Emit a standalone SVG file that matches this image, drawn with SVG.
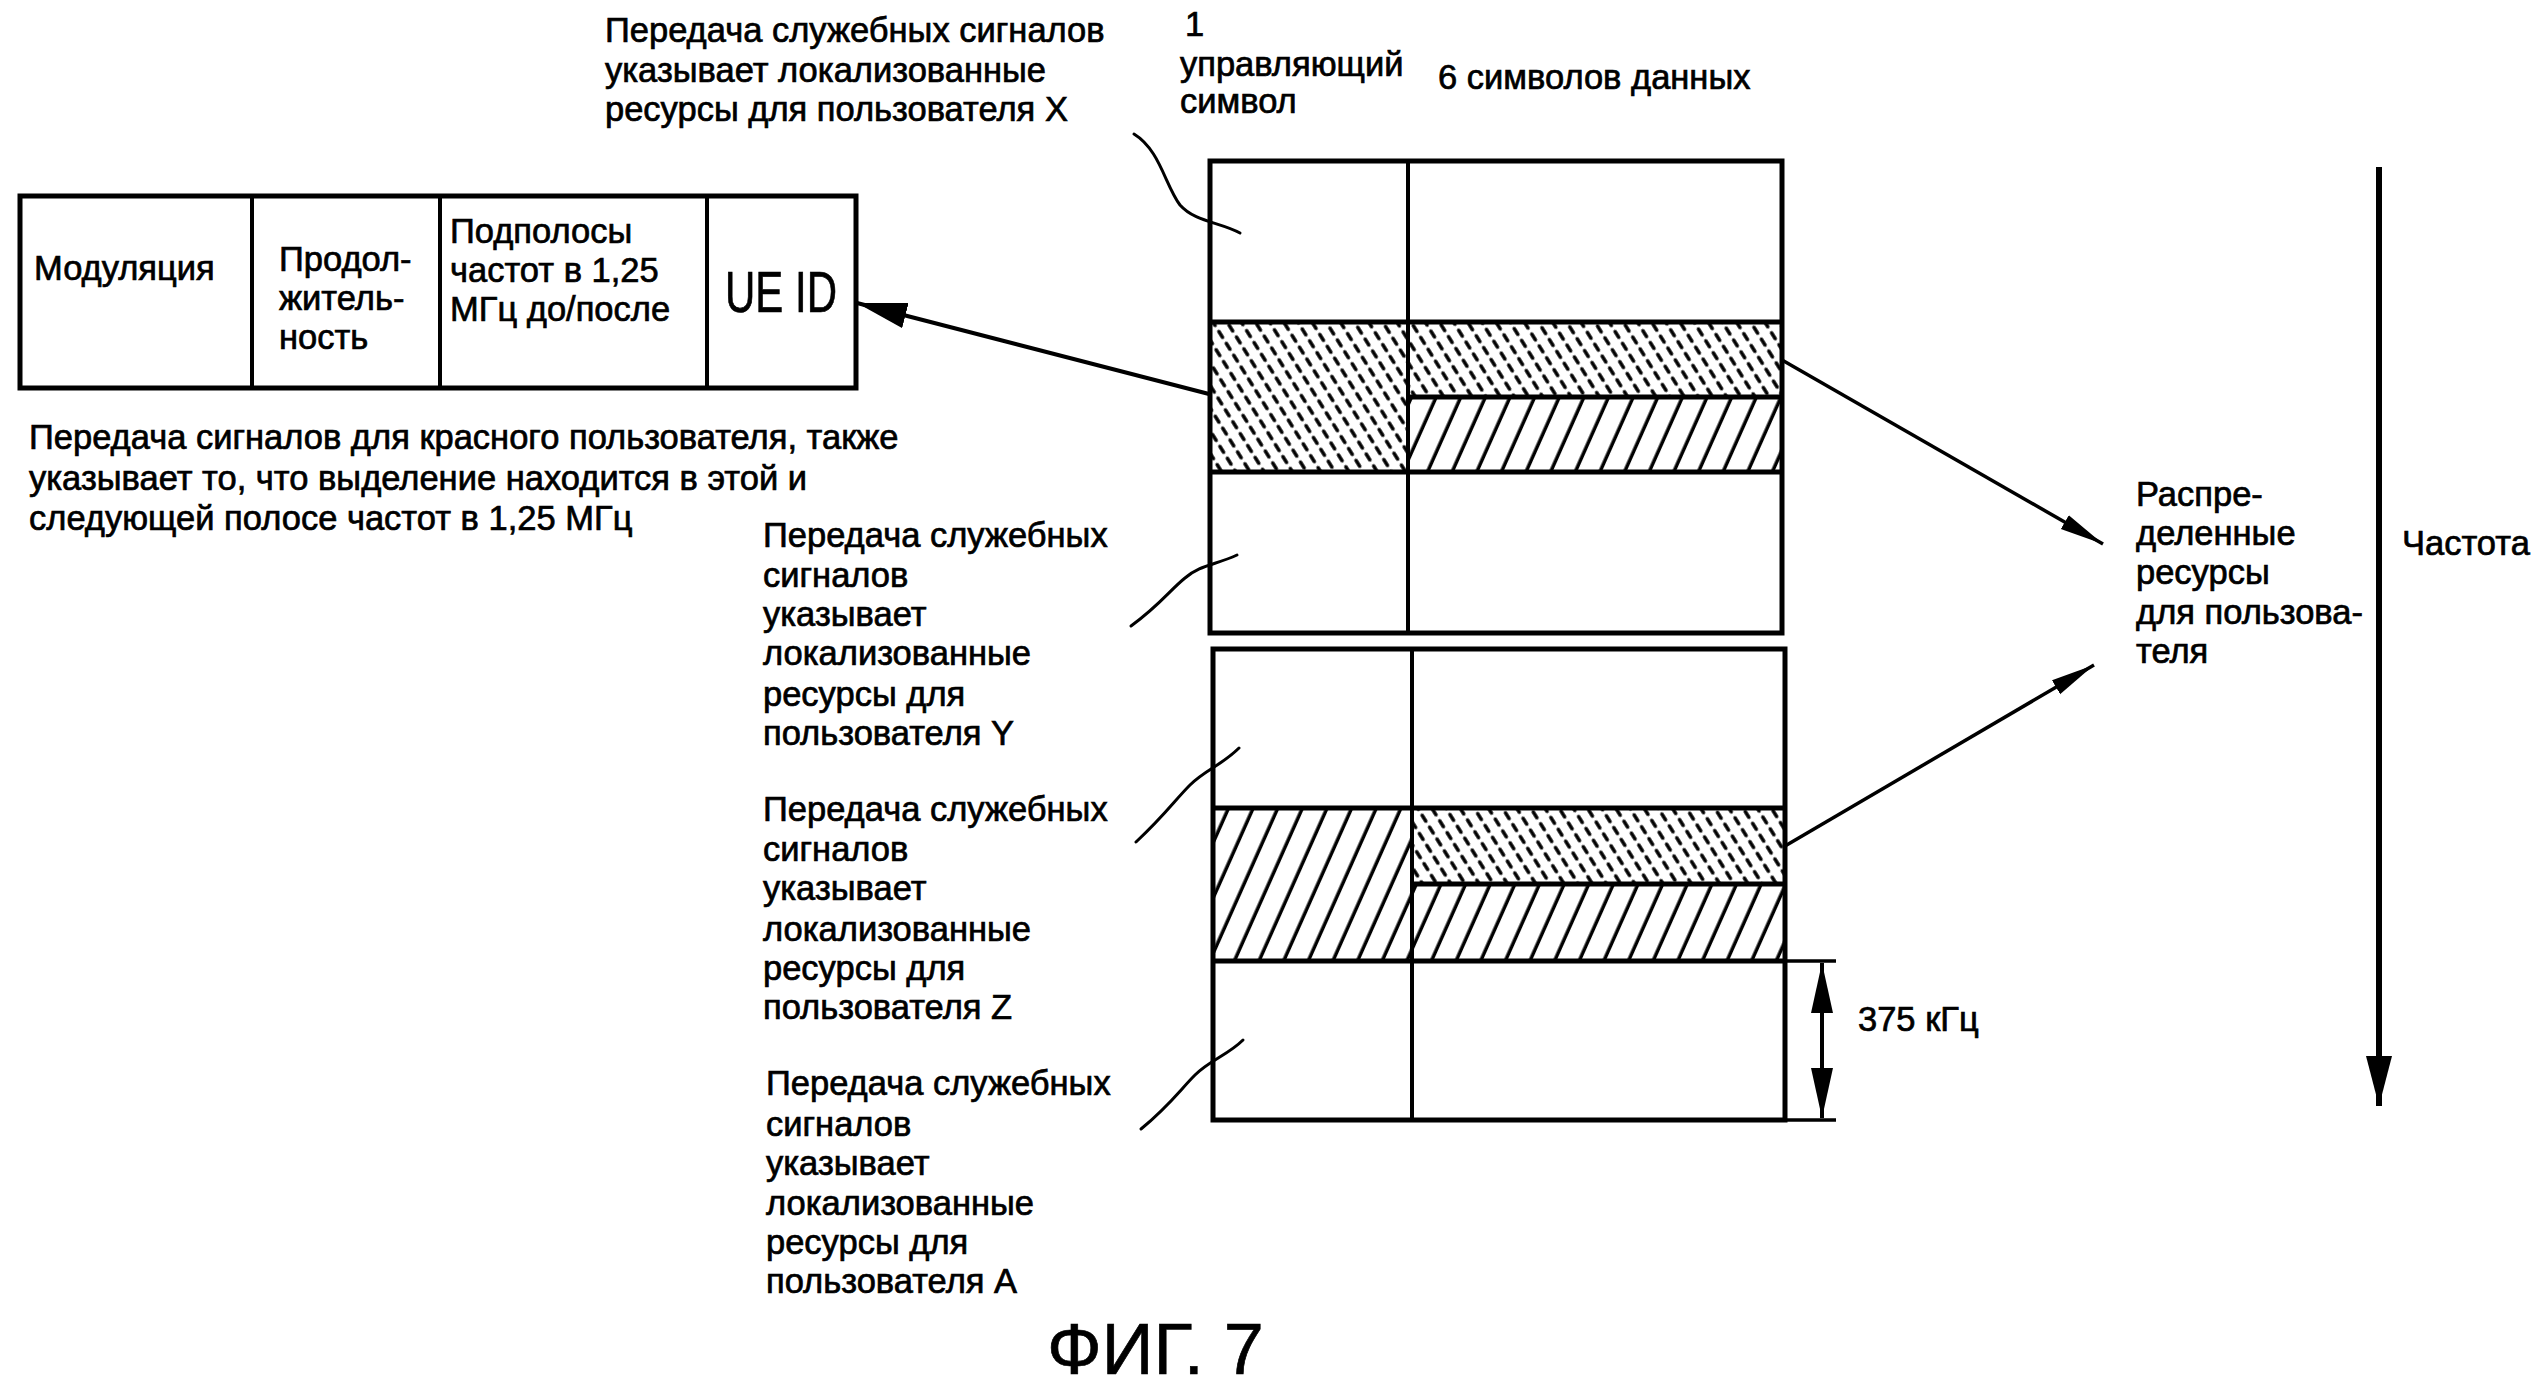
<svg xmlns="http://www.w3.org/2000/svg" width="2545" height="1389" viewBox="0 0 2545 1389">
<style>
text{font-family:"Liberation Sans",Arial,sans-serif;font-size:34.5px;fill:#000;stroke:#000;stroke-width:0.7}
.b{fill:none;stroke:#000;stroke-width:5}
.g{fill:none;stroke:#000;stroke-width:4}
.c{fill:none;stroke:#000;stroke-width:3.5}
.sq{fill:none;stroke:#000;stroke-width:3;stroke-linecap:round}
</style>
<defs>
<pattern id="hatch" patternUnits="userSpaceOnUse" width="22.5" height="22.5" patternTransform="rotate(24)">
<line x1="11" y1="-2" x2="11" y2="25" stroke="#000" stroke-width="3.5"/>
</pattern>
<pattern id="dots" patternUnits="userSpaceOnUse" width="12" height="14" patternTransform="rotate(-32)">
<line x1="6" y1="3" x2="6" y2="10" stroke="#000" stroke-width="3.5" stroke-linecap="round"/>
</pattern>
<marker id="ah" markerUnits="userSpaceOnUse" markerWidth="50" markerHeight="30" refX="44" refY="10" orient="auto">
<path d="M0,2 L44,10 L0,18 Z" fill="#000"/>
</marker>
<marker id="ahf" markerUnits="userSpaceOnUse" markerWidth="60" markerHeight="30" refX="50" refY="13" orient="auto">
<path d="M0,0 L50,13 L0,26 Z" fill="#000"/>
</marker>
<marker id="ahd" markerUnits="userSpaceOnUse" markerWidth="60" markerHeight="30" refX="50" refY="11" orient="auto">
<path d="M0,0 L50,11 L0,22 Z" fill="#000"/>
</marker>
</defs>

<g id="header-labels">
<text x="605" y="42">Передача служебных сигналов</text>
<text x="605" y="82">указывает локализованные</text>
<text x="605" y="121">ресурсы для пользователя X</text>
<text x="1185" y="36">1</text>
<text x="1180" y="76">управляющий</text>
<text x="1180" y="113">символ</text>
<text x="1438" y="89">6 символов данных</text>
</g>

<g id="signal-format">
<rect x="20" y="196" width="836" height="192" class="b"/>
<line x1="252" y1="196" x2="252" y2="388" class="g"/>
<line x1="440" y1="196" x2="440" y2="388" class="g"/>
<line x1="707" y1="196" x2="707" y2="388" class="g"/>
<text x="34" y="280">Модуляция</text>
<text x="279" y="271">Продол-</text>
<text x="279" y="310">житель-</text>
<text x="279" y="349">ность</text>
<text x="450" y="243">Подполосы</text>
<text x="450" y="282">частот в 1,25</text>
<text x="450" y="321">МГц до/после</text>
<text x="725" y="312" style="font-size:58px" textLength="112" lengthAdjust="spacingAndGlyphs">UE ID</text>
</g>

<g id="red-user-note">
<text x="29" y="449">Передача сигналов для красного пользователя, также</text>
<text x="29" y="490">указывает то, что выделение находится в этой и</text>
<text x="29" y="530">следующей полосе частот в 1,25 МГц</text>
</g>

<g id="grid-top">
<rect x="1210" y="322" width="198" height="150" fill="url(#dots)"/>
<rect x="1408" y="322" width="374" height="75" fill="url(#dots)"/>
<rect x="1408" y="397" width="374" height="75" fill="url(#hatch)"/>
<rect x="1210" y="161" width="572" height="472" class="b"/>
<line x1="1408" y1="161" x2="1408" y2="633" class="g"/>
<line x1="1210" y1="322" x2="1782" y2="322" class="b"/>
<line x1="1210" y1="472" x2="1782" y2="472" class="b"/>
<line x1="1408" y1="397" x2="1782" y2="397" class="b"/>
</g>

<g id="grid-bottom">
<rect x="1213" y="808" width="199" height="153" fill="url(#hatch)"/>
<rect x="1412" y="808" width="373" height="76" fill="url(#dots)"/>
<rect x="1412" y="884" width="373" height="77" fill="url(#hatch)"/>
<rect x="1213" y="649" width="572" height="471" class="b"/>
<line x1="1412" y1="649" x2="1412" y2="1120" class="g"/>
<line x1="1213" y1="808" x2="1785" y2="808" class="b"/>
<line x1="1213" y1="961" x2="1785" y2="961" class="b"/>
<line x1="1412" y1="884" x2="1785" y2="884" class="b"/>
</g>

<g id="label-y">
<text x="763" y="547">Передача служебных</text>
<text x="763" y="587">сигналов</text>
<text x="763" y="626">указывает</text>
<text x="763" y="665">локализованные</text>
<text x="763" y="706">ресурсы для</text>
<text x="763" y="745">пользователя Y</text>
</g>
<g id="label-z">
<text x="763" y="821">Передача служебных</text>
<text x="763" y="861">сигналов</text>
<text x="763" y="900">указывает</text>
<text x="763" y="941">локализованные</text>
<text x="763" y="980">ресурсы для</text>
<text x="763" y="1019">пользователя Z</text>
</g>
<g id="label-a">
<text x="766" y="1095">Передача служебных</text>
<text x="766" y="1136">сигналов</text>
<text x="766" y="1175">указывает</text>
<text x="766" y="1215">локализованные</text>
<text x="766" y="1254">ресурсы для</text>
<text x="766" y="1293">пользователя А</text>
</g>

<g id="distributed-label">
<text x="2136" y="506">Распре-</text>
<text x="2136" y="545">деленные</text>
<text x="2136" y="584">ресурсы</text>
<text x="2136" y="624">для пользова-</text>
<text x="2136" y="663">теля</text>
</g>

<g id="frequency-axis">
<line x1="2379" y1="167" x2="2379" y2="1106" stroke="#000" stroke-width="6" marker-end="url(#ahf)"/>
<text x="2402" y="555">Частота</text>
</g>

<g id="dimension">
<line x1="1785" y1="961" x2="1836" y2="961" class="c"/>
<line x1="1785" y1="1120" x2="1836" y2="1120" class="c"/>
<line x1="1822" y1="1040" x2="1822" y2="963" stroke="#000" stroke-width="4" marker-end="url(#ahd)"/>
<line x1="1822" y1="1040" x2="1822" y2="1118" stroke="#000" stroke-width="4" marker-end="url(#ahd)"/>
<text x="1858" y="1031">375 кГц</text>
</g>

<g id="connectors">
<line x1="1209" y1="394" x2="857" y2="303" stroke="#000" stroke-width="4" marker-end="url(#ahf)"/>
<line x1="1782" y1="360" x2="2103" y2="544" stroke="#000" stroke-width="3.5" marker-end="url(#ah)"/>
<line x1="1785" y1="846" x2="2094" y2="665" stroke="#000" stroke-width="3.5" marker-end="url(#ah)"/>
<path class="sq" d="M1134,134 C1160,150 1165,185 1180,205 C1195,222 1220,222 1240,233"/>
<path class="sq" d="M1131,626 C1160,605 1170,590 1185,578 C1200,565 1215,565 1237,555"/>
<path class="sq" d="M1136,842 C1165,815 1175,800 1190,785 C1205,770 1222,765 1239,748"/>
<path class="sq" d="M1141,1129 C1170,1105 1180,1090 1195,1075 C1210,1060 1228,1055 1243,1040"/>
</g>

<text x="1047" y="1374" style="font-size:72px">ФИГ. 7</text>
</svg>
